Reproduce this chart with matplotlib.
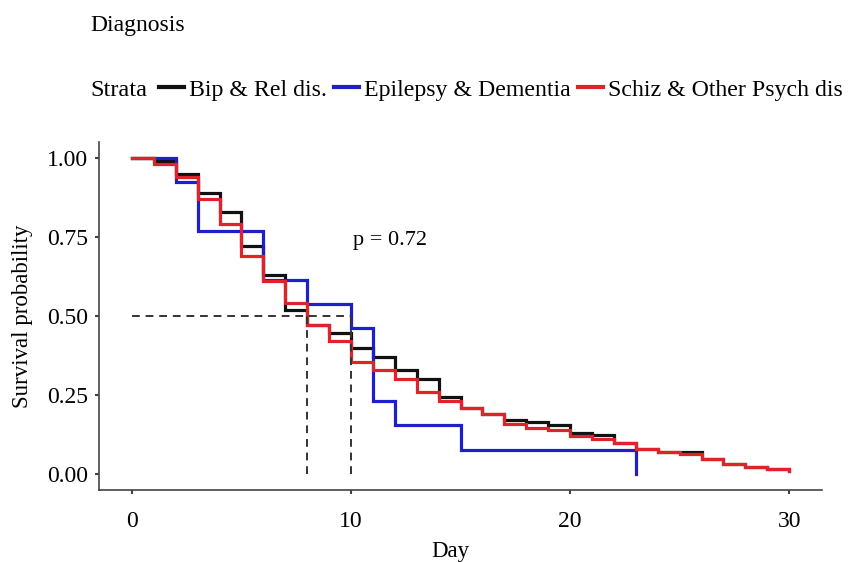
import matplotlib
matplotlib.use('Agg')
import matplotlib.pyplot as plt
from matplotlib.lines import Line2D
import numpy as np

plt.rcParams['font.family'] = ['Liberation Serif', 'DejaVu Serif']

# Kaplan-Meier estimates
strata = ['Bip & Rel dis.', 'Epilepsy & Dementia', 'Schiz & Other Psych dis']
colors = ['#111111', '#1f1fc8', '#e0232b']

bip_days = list(range(0, 31))
bip_surv = [1.00, 0.99, 0.95, 0.89, 0.83, 0.72, 0.63, 0.52, 0.47, 0.445,
            0.40, 0.37, 0.33, 0.30, 0.245, 0.21, 0.19, 0.17, 0.165, 0.155,
            0.13, 0.125, 0.10, 0.08, 0.07, 0.07, 0.047, 0.032, 0.022, 0.015, 0.01]

epi_days = [0, 2, 3, 6, 8, 10, 11, 12, 15, 23]
epi_surv = [1.00, 0.923, 0.769, 0.615, 0.538, 0.462, 0.231, 0.154, 0.077, 0.0]

schiz_days = list(range(0, 31))
schiz_surv = [1.00, 0.98, 0.94, 0.87, 0.79, 0.69, 0.61, 0.54, 0.47, 0.42,
              0.355, 0.33, 0.30, 0.26, 0.23, 0.21, 0.19, 0.16, 0.145, 0.14,
              0.12, 0.11, 0.10, 0.08, 0.07, 0.065, 0.047, 0.032, 0.022, 0.015, 0.01]

p_text = 'p = 0.72'
x_ticks = [0, 10, 20, 30]
y_ticks = [0.00, 0.25, 0.50, 0.75, 1.00]

curves = [(bip_days, bip_surv), (epi_days, epi_surv), (schiz_days, schiz_surv)]

W, H = 863, 562
fig = plt.figure(figsize=(W / 100, H / 100), dpi=100)
ax = fig.add_axes([99 / W, 1 - 490 / H, (822 - 99) / W, (490 - 142) / H])

medians = []
for (d, s), c in zip(curves, colors):
    ax.plot(d, s, drawstyle='steps-post', color=c, lw=2.3, solid_joinstyle='miter')
    s_arr = np.array(s)
    idx = np.argmax(s_arr <= 0.5)
    medians.append(d[idx])

# median survival guides
ax.plot([0, max(medians)], [0.5, 0.5], ls=(0, (4, 3)), color='#333333', lw=1.4)
for m in sorted(set(medians)):
    ax.plot([m, m], [0, 0.5], ls=(0, (4, 3)), color='#333333', lw=1.4)

ax.text(10.1, 0.74, p_text, fontsize=16, ha='left', va='center')

ax.set_xlim(-1.5, 31.5)
ax.set_ylim(-0.05, 1.05)
ax.set_xticks(x_ticks)
ax.set_yticks(y_ticks)
ax.set_yticklabels([f'{v:.2f}' for v in y_ticks])
ax.tick_params(labelsize=17, length=3, width=1.5, color='#444444')
ax.tick_params(axis='x', pad=12)
ax.tick_params(axis='y', pad=5)
for sp in ['top', 'right']:
    ax.spines[sp].set_visible(False)
for sp in ['left', 'bottom']:
    ax.spines[sp].set_color('#444444')
    ax.spines[sp].set_linewidth(1.2)
ax.set_xlabel('Day', fontsize=16.5, va='center')
ax.set_ylabel('Survival probability', fontsize=16.5, va='center')
ax.xaxis.set_label_coords((450 - 99) / (822 - 99), (490 - 551) / (490 - 142))
ax.yaxis.set_label_coords((23 - 99) / (822 - 99), 0.5)

# legend on top
fig.text(90 / W, 1 - 25 / H, 'Diagnosis', fontsize=17, va='center', ha='left')
fig.text(90 / W, 1 - 90 / H, 'Strata', fontsize=17.5, va='center', ha='left')
handles = [Line2D([], [], color=c, lw=3) for c in colors]
fig.legend(handles, strata, loc='center left', bbox_to_anchor=(159 / W, 1 - 90 / H),
           ncol=3, frameon=False, fontsize=17.2, handlelength=1.05, handletextpad=0.2,
           columnspacing=0.3, borderaxespad=0, borderpad=0)

fig.savefig('out.png', dpi=100)
